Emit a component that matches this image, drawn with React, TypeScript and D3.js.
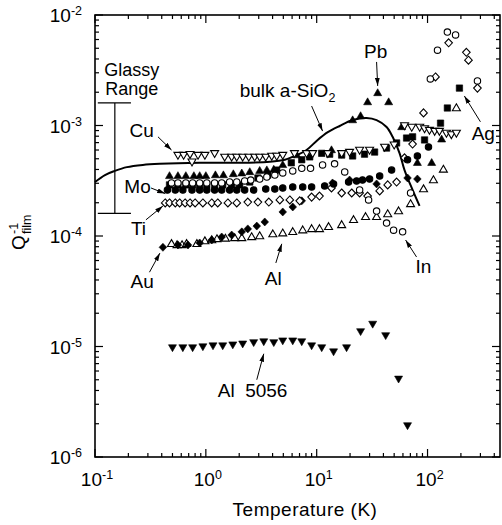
import * as d3 from 'd3';

const FONT = "'Liberation Sans', Arial, Helvetica, sans-serif";

// Cu (open down triangles)
const cuT = [0.56, 0.63, 0.72, 0.75, 0.85, 0.98, 1.2, 1.48, 1.71, 1.9, 2.15, 2.44, 2.76, 3.06, 3.47, 3.93, 4.36, 4.94, 6.3, 8.1, 9.2, 12.6, 16.8, 19.8, 24.4, 30, 41, 50, 62, 72, 85, 94, 104, 116, 128, 148, 164, 182];
const cuQ = [5.4e-4, 5.4e-4, 5.5e-4, 4.7e-4, 5.4e-4, 5.4e-4, 5.6e-4, 5.2e-4, 5.2e-4, 5.2e-4, 5.2e-4, 5.2e-4, 5.2e-4, 5.2e-4, 5.2e-4, 5.3e-4, 5.3e-4, 5.4e-4, 5.6e-4, 5.6e-4, 5.6e-4, 5.6e-4, 5.6e-4, 5.75e-4, 6.0e-4, 6.0e-4, 6.4e-4, 6.7e-4, 1.0e-3, 9.7e-4, 9.7e-4, 9.4e-4, 9.1e-4, 8.9e-4, 8.9e-4, 8.55e-4, 8.3e-4, 8.55e-4];

// Pb (filled up triangles)
const pbT = [0.47, 0.56, 0.66, 0.78, 0.88, 1.0, 1.22, 1.44, 1.77, 2.11, 2.49, 3.06, 3.55, 4.1, 4.94, 6.6, 13.6, 21.1, 24.9, 28.8, 35.5, 44.6, 58.4, 81, 109, 134];
const pbQ = [3.5e-4, 3.5e-4, 3.5e-4, 3.5e-4, 3.5e-4, 3.5e-4, 3.56e-4, 3.56e-4, 3.64e-4, 3.7e-4, 3.8e-4, 3.9e-4, 3.95e-4, 4.0e-4, 4.4e-4, 5.4e-4, 6.0e-4, 1.12e-3, 1.22e-3, 1.63e-3, 1.97e-3, 1.63e-3, 9.7e-4, 4.6e-4, 4.6e-4, 7.5e-4];

// Ag (filled squares)
const agT = [0.47, 0.56, 0.66, 0.76, 0.88, 1.02, 1.2, 1.42, 1.71, 2.02, 2.49, 2.95, 3.62, 4.36, 5.9, 7.33, 8.65, 11.1, 13.1, 16.8, 21.1, 27.0, 33.3, 42.7, 52.6, 64.7, 73.3, 94, 131, 151, 194];
const agQ = [2.9e-4, 2.9e-4, 2.9e-4, 2.9e-4, 2.9e-4, 2.9e-4, 2.9e-4, 2.9e-4, 2.9e-4, 2.9e-4, 3.08e-4, 3.35e-4, 3.56e-4, 3.95e-4, 4.6e-4, 4.9e-4, 5.2e-4, 5.6e-4, 5.5e-4, 5.4e-4, 5.3e-4, 5.5e-4, 5.75e-4, 6.25e-4, 6.95e-4, 7.7e-4, 7.9e-4, 7.4e-4, 1.05e-3, 1.44e-3, 2.18e-3];

// In (open circles)
const inT = [0.49, 0.56, 0.66, 0.76, 0.88, 1.02, 1.2, 1.39, 1.64, 1.9, 2.24, 2.54, 3.06, 3.55, 4.19, 4.94, 6.08, 7.33, 8.8, 11.3, 14.5, 17.9, 24.4, 29.4, 34.7, 42.7, 49.4, 59.6, 70.3, 106, 123, 151, 179, 282];
const inQ = [3.02e-4, 3.02e-4, 3.02e-4, 3.02e-4, 3.02e-4, 3.02e-4, 3.02e-4, 3.02e-4, 3.08e-4, 3.08e-4, 3.15e-4, 3.21e-4, 3.28e-4, 3.42e-4, 3.56e-4, 3.72e-4, 3.88e-4, 4.1e-4, 4.1e-4, 4.4e-4, 4.5e-4, 3.8e-4, 2.61e-4, 2.12e-4, 1.68e-4, 1.31e-4, 1.13e-4, 1.09e-4, 2.45e-4, 2.64e-3, 4.8e-3, 7.0e-3, 6.6e-3, 2.53e-3];

// Mo (filled circles)
const moT = [0.45, 0.53, 0.62, 0.75, 0.88, 1.02, 1.2, 1.39, 1.64, 1.9, 2.24, 2.7, 3.47, 4.19, 4.94, 6.08, 7.48, 9.0, 11.8, 14.2, 19.4, 22.9, 25.9, 30, 37, 47.4, 66, 81, 102];
const moQ = [2.61e-4, 2.61e-4, 2.61e-4, 2.61e-4, 2.61e-4, 2.61e-4, 2.61e-4, 2.61e-4, 2.61e-4, 2.61e-4, 2.61e-4, 2.61e-4, 2.66e-4, 2.66e-4, 2.72e-4, 2.78e-4, 2.78e-4, 2.78e-4, 2.84e-4, 2.96e-4, 3.08e-4, 3.15e-4, 3.21e-4, 3.28e-4, 3.49e-4, 3.95e-4, 4.9e-4, 5.3e-4, 6.4e-4];

// Ti (open diamonds)
const tiT = [0.43, 0.47, 0.53, 0.58, 0.65, 0.72, 0.8, 0.94, 1.13, 1.28, 1.58, 1.9, 2.39, 2.95, 3.7, 4.65, 5.72, 7.03, 9.0, 10.6, 13.6, 16.8, 20.7, 24.4, 28.8, 37, 43.7, 52.6, 62, 73.3, 92, 118, 155, 224, 234, 282];
const tiQ = [1.99e-4, 1.99e-4, 1.99e-4, 1.99e-4, 1.99e-4, 1.99e-4, 1.99e-4, 1.99e-4, 1.99e-4, 1.99e-4, 1.99e-4, 1.99e-4, 2.03e-4, 2.03e-4, 2.03e-4, 2.12e-4, 2.12e-4, 2.08e-4, 2.25e-4, 2.3e-4, 2.72e-4, 2.45e-4, 2.45e-4, 2.45e-4, 2.3e-4, 2.56e-4, 2.9e-4, 3.08e-4, 5.1e-4, 6.8e-4, 1.3e-3, 2.75e-3, 5.6e-3, 4.6e-3, 3.9e-3, 2.18e-3];

// Au (filled diamonds)
const auT = [0.41, 0.56, 0.69, 0.88, 1.13, 1.39, 1.71, 2.11, 2.39, 2.88, 3.4, 4.94, 6.08, 7.33, 13.9, 19.8, 34.7, 66, 81];
const auQ = [7.9e-5, 8.3e-5, 8.3e-5, 8.65e-5, 9.2e-5, 9.8e-5, 1.02e-4, 1.09e-4, 1.16e-4, 1.23e-4, 1.34e-4, 1.65e-4, 1.83e-4, 2.08e-4, 3.02e-4, 3.21e-4, 2.96e-4, 3.35e-4, 3.28e-4];

// Al (open up triangles)
const alT = [0.49, 0.55, 0.61, 0.67, 0.83, 0.98, 1.13, 1.26, 1.5, 1.82, 2.11, 2.59, 3.06, 4.02, 4.94, 6.08, 7.48, 9.0, 10.6, 12.8, 16.8, 21.5, 27.6, 34.7, 43.7, 54.8, 70.3, 92, 113, 139, 182];
const alQ = [8.5e-5, 8.3e-5, 8.3e-5, 8.5e-5, 8.5e-5, 9.0e-5, 9.2e-5, 9.4e-5, 9.5e-5, 9.6e-5, 9.6e-5, 9.8e-5, 1.0e-4, 1.04e-4, 1.06e-4, 1.09e-4, 1.13e-4, 1.16e-4, 1.16e-4, 1.21e-4, 1.26e-4, 1.4e-4, 1.49e-4, 1.49e-4, 1.58e-4, 1.68e-4, 1.95e-4, 2.66e-4, 3.21e-4, 4.0e-4, 1.44e-3];

// Al 5056 (filled down triangles)
const al5056T = [0.5, 0.62, 0.76, 0.94, 1.16, 1.42, 1.75, 2.15, 2.7, 3.33, 4.1, 4.94, 6.08, 7.33, 9.0, 11.1, 14.2, 18.6, 24.9, 32, 41.9, 54.8, 66];
const al5056Q = [9.8e-6, 9.8e-6, 9.8e-6, 1.0e-5, 1.02e-5, 1.02e-5, 1.04e-5, 1.06e-5, 1.09e-5, 1.11e-5, 1.09e-5, 1.13e-5, 1.13e-5, 1.11e-5, 1.02e-5, 9.8e-6, 9.0e-6, 9.8e-6, 1.37e-5, 1.6e-5, 1.26e-5, 5.1e-6, 1.93e-6];

// bulk a-SiO2 curve
const sio2T = [0.1, 0.123, 0.151, 0.194, 0.27, 0.385, 0.88, 2.02, 3.78, 5.16, 6.34, 8.1, 10.2, 12.6, 16.1, 21.1, 28.2, 34.7, 42.7, 48.4, 56, 62, 73.3, 84.7];
const sio2Q = [3.08e-4, 3.56e-4, 3.88e-4, 4.2e-4, 4.4e-4, 4.5e-4, 4.6e-4, 4.6e-4, 4.7e-4, 4.9e-4, 5.3e-4, 6.0e-4, 7.4e-4, 8.7e-4, 9.9e-4, 1.12e-3, 1.17e-3, 1.12e-3, 9.7e-4, 7.9e-4, 5.6e-4, 3.95e-4, 2.61e-4, 1.87e-4];

// glassy range bracket: T left, T centre, T right, Q top, Q bottom
const glassyT = [0.106, 0.151, 0.211];
const glassyQ = [1.6e-3, 1.6e-4];

const series = [
  { name: 'Al 5056', T: al5056T, Q: al5056Q, shape: 'triDown', filled: true },
  { name: 'Al', T: alT, Q: alQ, shape: 'triUp', filled: false },
  { name: 'Au', T: auT, Q: auQ, shape: 'diamond', filled: true },
  { name: 'Ti', T: tiT, Q: tiQ, shape: 'diamond', filled: false },
  { name: 'Mo', T: moT, Q: moQ, shape: 'circle', filled: true },
  { name: 'Ag', T: agT, Q: agQ, shape: 'square', filled: true },
  { name: 'In', T: inT, Q: inQ, shape: 'circle', filled: false },
  { name: 'Pb', T: pbT, Q: pbQ, shape: 'triUp', filled: true },
  { name: 'Cu', T: cuT, Q: cuQ, shape: 'triDown', filled: false },
];

// annotation labels (data coords of text anchor)
const labels = [
  { text: 'Glassy', T: 0.215, Q: 2.78e-3, anchor: 'middle', size: 18 },
  { text: 'Range', T: 0.215, Q: 1.87e-3, anchor: 'middle', size: 18 },
  { text: 'Cu', T: 0.205, Q: 7.9e-4, anchor: 'start', size: 19 },
  { text: 'Pb', T: 34, Q: 4.1e-3, anchor: 'middle', size: 19 },
  { text: 'Ag', T: 250, Q: 7.4e-4, anchor: 'start', size: 19 },
  { text: 'Mo', T: 0.184, Q: 2.45e-4, anchor: 'start', size: 19 },
  { text: 'Ti', T: 0.211, Q: 1.02e-4, anchor: 'start', size: 19 },
  { text: 'Au', T: 0.209, Q: 3.38e-5, anchor: 'start', size: 19 },
  { text: 'Al', T: 3.4, Q: 3.6e-5, anchor: 'start', size: 19 },
  { text: 'In', T: 78, Q: 4.6e-5, anchor: 'start', size: 19 },
  { text: 'Al  5056', T: 1.28, Q: 3.5e-6, anchor: 'start', size: 19 },
];

const arrows = [
  { from: [0.37, 7.9e-4], to: [0.49, 6.0e-4] },
  { from: [9.0, 1.5e-3], to: [11.3, 8.9e-4] },
  { from: [34.7, 3.76e-3], to: [35.5, 2.28e-3] },
  { from: [300, 1.08e-3], to: [215, 1.85e-3] },
  { from: [0.32, 2.72e-4], to: [0.43, 2.42e-4] },
  { from: [0.288, 1.4e-4], to: [0.41, 1.87e-4] },
  { from: [0.31, 4.7e-5], to: [0.385, 7.0e-5] },
  { from: [4.28, 5.7e-5], to: [4.84, 8.5e-5] },
  { from: [79.6, 6.46e-5], to: [63.4, 9.2e-5] },
  { from: [2.88, 5.0e-6], to: [3.33, 8.6e-6] },
];

const shapes: Record<string, string> = {
  triUp: 'M0,-4.2L4,2.7L-4,2.7Z',
  triDown: 'M0,4.2L4,-2.7L-4,-2.7Z',
  diamond: 'M0,-4L3.8,0L0,4L-3.8,0Z',
  square: 'M-3.2,-3.2H3.2V3.2H-3.2Z',
};

const isDecade = (v: number) => Math.abs(Math.log10(v) - Math.round(Math.log10(v))) < 1e-6;

export default function App() {
  const width = 502;
  const height = 525;
  const left = 95, right = 501, top = 15, bottom = 457;

  const x = d3.scaleLog().domain([0.1, 460]).range([left, right]);
  const y = d3.scaleLog().domain([1e-6, 1e-2]).range([bottom, top]);

  const xTicks = x.ticks();
  const yTicks = y.ticks();

  const line = d3.line<number>()
    .x((_, i) => x(sio2T[i]))
    .y((d) => y(d))
    .curve(d3.curveCatmullRom.alpha(0.5));

  return (
    <svg width={width} height={height} style={{ position: 'absolute', left: 0, top: 0, background: '#fff' }}
      fontFamily={FONT}>
      <defs>
        <marker id="ah" viewBox="0 0 10 6" refX="10" refY="3" markerWidth="8" markerHeight="5"
          markerUnits="userSpaceOnUse" orient="auto">
          <path d="M0,0L10,3L0,6Z" fill="#000" />
        </marker>
      </defs>

      {/* ticks */}
      {xTicks.map((t, i) => {
        const len = isDecade(t) ? 8 : 4;
        return (
          <g key={'xt' + i} stroke="#000" strokeWidth={1.2}>
            <line x1={x(t)} x2={x(t)} y1={bottom} y2={bottom - len} />
            <line x1={x(t)} x2={x(t)} y1={top} y2={top + len} />
          </g>
        );
      })}
      {yTicks.map((t, i) => {
        const len = isDecade(t) ? 8 : 4;
        return (
          <g key={'yt' + i} stroke="#000" strokeWidth={1.2}>
            <line x1={left} x2={left + len} y1={y(t)} y2={y(t)} />
            <line x1={right - 1} x2={right - 1 - len} y1={y(t)} y2={y(t)} />
          </g>
        );
      })}
      <rect x={left} y={top} width={right - 1 - left} height={bottom - top} fill="none" stroke="#000" strokeWidth={1.6} />

      {/* tick labels */}
      {xTicks.filter(isDecade).map((t, i) => (
        <text key={'xl' + i} x={x(t) + 2} y={486} textAnchor="middle" fontSize={19}>
          10<tspan dy={-7} fontSize={12.5}>{Math.round(Math.log10(t))}</tspan>
        </text>
      ))}
      {yTicks.filter(isDecade).map((t, i) => (
        <text key={'yl' + i} x={82} y={y(t) + 7} textAnchor="end" fontSize={19}>
          10<tspan dy={-7} fontSize={12.5}>{Math.round(Math.log10(t))}</tspan>
        </text>
      ))}

      {/* axis titles */}
      <text x={305} y={516} textAnchor="middle" fontSize={19} letterSpacing={0.5}>Temperature (K)</text>
      <g transform="rotate(-90)">
        <text x={-250} y={25} fontSize={19}>Q</text>
        <text x={-234} y={18} fontSize={12.5}>-1</text>
        <text x={-234} y={31} fontSize={12.5}>film</text>
      </g>

      {/* glassy range bracket */}
      <g stroke="#000" strokeWidth={1.2}>
        <line x1={x(glassyT[0])} x2={x(glassyT[2])} y1={y(glassyQ[0])} y2={y(glassyQ[0])} />
        <line x1={x(glassyT[0])} x2={x(glassyT[2])} y1={y(glassyQ[1])} y2={y(glassyQ[1])} />
        <line x1={x(glassyT[1])} x2={x(glassyT[1])} y1={y(glassyQ[0])} y2={y(glassyQ[1])} />
      </g>

      {/* bulk a-SiO2 */}
      <path d={line(sio2Q) || ''} fill="none" stroke="#000" strokeWidth={2} />

      {/* data */}
      {series.map((s) => (
        <g key={s.name}>
          {s.T.map((t, i) =>
            s.shape === 'circle' ? (
              <circle key={i} cx={x(t)} cy={y(s.Q[i])} r={3.2}
                fill={s.filled ? '#000' : '#fff'} stroke="#000" strokeWidth={1.1} />
            ) : (
              <path key={i} d={shapes[s.shape]} transform={`translate(${x(t)},${y(s.Q[i])})`}
                fill={s.filled ? '#000' : '#fff'} stroke="#000" strokeWidth={s.filled ? 0.6 : 1.1} />
            )
          )}
        </g>
      ))}

      {/* arrows */}
      {arrows.map((a, i) => (
        <line key={'ar' + i} x1={x(a.from[0])} y1={y(a.from[1])} x2={x(a.to[0])} y2={y(a.to[1])}
          stroke="#000" strokeWidth={1} markerEnd="url(#ah)" />
      ))}

      {/* labels */}
      {labels.map((l, i) => (
        <text key={'lb' + i} x={x(l.T)} y={y(l.Q)} textAnchor={l.anchor} fontSize={l.size} style={{ whiteSpace: 'pre' }}>
          {l.text}
        </text>
      ))}
      <text x={x(2.02)} y={y(1.81e-3)} fontSize={19}>
        bulk a-SiO<tspan dy={5} fontSize={12.5}>2</tspan>
      </text>
    </svg>
  );
}
